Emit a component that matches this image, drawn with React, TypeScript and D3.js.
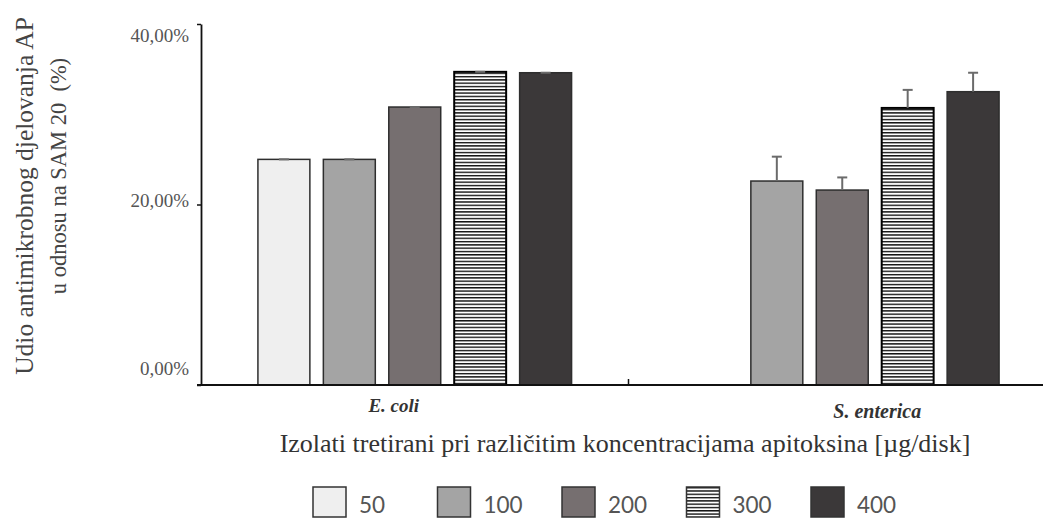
import React, { useRef, useEffect } from "react";
import * as d3 from "d3";

const width = 1043;
const height = 519;
const margin = { left: 201, right: -13, top: 24, bottom: 134 }; // x axis runs past the right edge

const categories = ["E. coli", "S. enterica"];
const series = ["50", "100", "200", "300", "400"];
const eColiValues = [25.0, 25.0, 30.8, 34.7, 34.6];
const eColiErrors = [0, 0, 0, 0, 0];
const sEntericaValues = [null, 22.6, 21.6, 30.7, 32.5];
const sEntericaErrors = [null, 2.7, 1.4, 2.0, 2.1];
const yTicks = [0, 20, 40];
const seriesFills = ["#efefef", "#a4a4a4", "#766f70", "url(#stripes)", "#3b3839"];

const serif = "'Liberation Serif', 'Times New Roman', serif";

// the original tick labels are not centred on their ticks
const tickLabelShift = (v: number) => (v === 40 ? 11 : v === 20 ? -4 : -17);
// category labels sit a little off the group centres
const categoryShift = [{ dx: -21, y: 412, size: 19 }, { dx: 35, y: 418, size: 20 }];

const rows = [
  { cat: categories[0], values: eColiValues, errors: eColiErrors },
  { cat: categories[1], values: sEntericaValues, errors: sEntericaErrors },
];

const x0 = d3
  .scaleBand<string>()
  .domain(categories)
  .range([margin.left, width - margin.right]);
const x1 = d3
  .scaleBand<string>()
  .domain(series)
  .range([0, x0.bandwidth()])
  .paddingInner(0.206)
  .paddingOuter(0.87);
const y = d3
  .scaleLinear()
  .domain([0, 40])
  .range([height - margin.bottom, margin.top]);
const legendX = d3.scalePoint<string>().domain(series).range([313, 811]);

const fmt = (v: number) => d3.format(".2f")(v).replace(".", ",") + "%";

export default function App() {
  const yAxisRef = useRef<SVGGElement>(null);

  useEffect(() => {
    if (!yAxisRef.current) return;
    const axis = d3
      .axisLeft(y)
      .tickValues(yTicks)
      .tickSize(4)
      .tickSizeOuter(0)
      .tickPadding(8)
      .tickFormat((d) => fmt(d as number));
    const g = d3.select(yAxisRef.current);
    g.call(axis as never);
    g.select(".domain").attr("stroke", "#111").attr("stroke-width", 1.8);
    g.selectAll(".tick line").attr("stroke", "#111").attr("stroke-width", 1.5);
    g.selectAll<SVGTextElement, number>(".tick text")
      .attr("y", (d) => tickLabelShift(d))
      .attr("fill", "#555")
      .style("font-family", serif)
      .style("font-size", "19px");
  }, []);

  const base = y(0);

  return (
    <svg
      width={width}
      height={height}
      style={{ position: "absolute", left: 0, top: 0, background: "#fff" }}
    >
      <defs>
        <pattern id="stripes" patternUnits="userSpaceOnUse" width={8} height={3.3}>
          <rect width={8} height={3.3} fill="#fff" />
          <rect width={8} height={1.4} fill="#111" />
        </pattern>
      </defs>

      {rows.map((row) =>
        row.values.map((v, i) => {
          if (v == null) return null;
          const bx = (x0(row.cat) as number) + (x1(series[i]) as number);
          const bw = x1.bandwidth();
          const top = y(v);
          const err = row.errors[i] ?? 0;
          const cx = bx + bw / 2;
          return (
            <g key={row.cat + series[i]}>
              <rect
                x={bx}
                y={top}
                width={bw}
                height={base - top}
                fill={seriesFills[i]}
                stroke={i === 3 ? "#000" : "#2e2e2e"}
                strokeWidth={i === 3 ? 2 : 1.5}
              />
              <line x1={cx} x2={cx} y1={top} y2={y(v + err)} stroke="#6b6b6b" strokeWidth={2} />
              <line x1={cx - 5} x2={cx + 5} y1={y(v + err)} y2={y(v + err)} stroke="#6b6b6b" strokeWidth={2} />
            </g>
          );
        })
      )}

      {/* x axis */}
      <line x1={margin.left - 4} x2={width - margin.right} y1={base} y2={base} stroke="#111" strokeWidth={1.8} />
      <line
        x1={x0(categories[1]) as number}
        x2={x0(categories[1]) as number}
        y1={base}
        y2={base - 6}
        stroke="#111"
        strokeWidth={1.5}
      />
      <g ref={yAxisRef} transform={`translate(${margin.left},0)`} />

      {categories.map((c, i) => (
        <text
          key={c}
          x={(x0(c) as number) + x0.bandwidth() / 2 + categoryShift[i].dx}
          y={categoryShift[i].y}
          textAnchor="middle"
          fontFamily={serif}
          fontStyle="italic"
          fontWeight="bold"
          fontSize={categoryShift[i].size}
          fill="#333"
        >
          {c}
        </text>
      ))}

      <text x={625} y={452} textAnchor="middle" fontFamily={serif} fontSize={26} fill="#333">
        Izolati tretirani pri različitim koncentracijama apitoksina [µg/disk]
      </text>

      <text
        transform="translate(33,196) rotate(-90)"
        textAnchor="middle"
        fontFamily={serif}
        fontSize={25.5}
        fill="#444"
      >
        Udio antimikrobnog djelovanja AP
      </text>
      <text
        transform="translate(66,176) rotate(-90)"
        textAnchor="middle"
        fontFamily={serif}
        fontSize={22.5}
        fill="#444"
        style={{ whiteSpace: "pre" }}
      >
        {"u odnosu na SAM 20  (%)"}
      </text>

      {series.map((s, i) => (
        <g key={s} transform={`translate(${legendX(s)},487)`}>
          <rect width={33} height={30} fill={seriesFills[i]} stroke="#333" strokeWidth={1.5} />
          <text x={46} y={26} fontFamily="Lato, 'Open Sans', sans-serif" fontSize={22.5} fill="#555">
            {s}
          </text>
        </g>
      ))}
    </svg>
  );
}
